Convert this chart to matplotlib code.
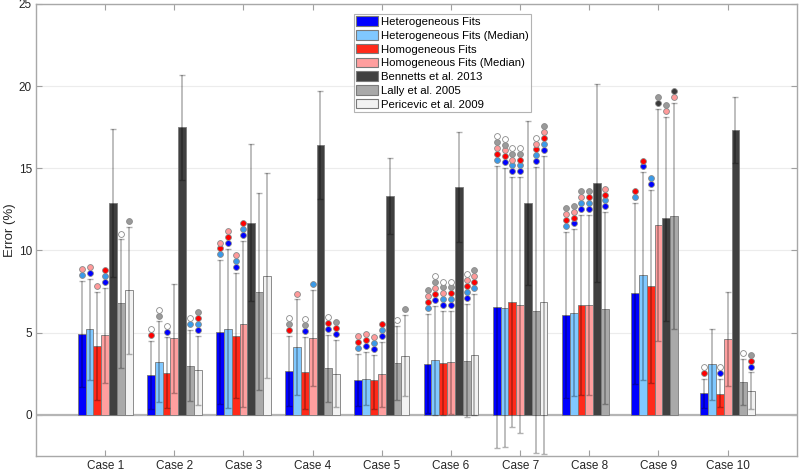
import numpy as np
import matplotlib
matplotlib.use("Agg")
import matplotlib.pyplot as plt
from matplotlib.patches import Patch

plt.rcParams["font.family"] = ["Liberation Sans", "DejaVu Sans"]

cases = ["Case 1", "Case 2", "Case 3", "Case 4", "Case 5",
         "Case 6", "Case 7", "Case 8", "Case 9", "Case 10"]

series_names = [
    "Heterogeneous Fits",
    "Heterogeneous Fits (Median)",
    "Homogeneous Fits",
    "Homogeneous Fits (Median)",
    "Bennetts et al. 2013",
    "Lally et al. 2005",
    "Pericevic et al. 2009",
]

nan = np.nan

# mean error (%) per case
het = [4.91, 2.40, 5.05, 2.66, 2.11, 3.09, 6.57, 6.07, 7.43, 1.32]
het_med = [5.20, 3.21, 5.22, 4.10, 2.19, 3.31, 6.51, 6.21, 8.48, 3.07]
hom = [4.18, 2.56, 4.81, 2.58, 2.11, 3.13, 6.84, 6.66, 7.83, 1.30]
hom_med = [4.83, 4.65, 5.52, 4.69, 2.48, 3.21, 6.66, 6.66, 11.53, 4.63]
bennetts = [12.87, 17.50, 11.69, 16.42, 13.30, 13.88, 12.90, 14.10, 11.95, 17.33]
lally = [6.78, 3.00, 7.49, 2.86, 3.13, 3.27, 6.31, 6.47, 12.09, 1.99]
pericevic = [7.59, 2.72, 8.46, 2.46, 3.57, 3.63, 6.84, nan, nan, 1.48]

# error bar ends
het_hi = [8.14, 4.49, 9.40, 4.79, 3.71, 6.13, 15.16, 11.14, 12.87, 2.21]
het_lo = [1.70, 0.33, 0.69, 0.53, 0.55, 0.10, -2.00, 1.00, 1.87, 0.39]
het_med_hi = [8.28, 5.68, 10.08, 7.02, 3.82, 6.64, 15.00, 11.28, 14.75, 5.22]
het_med_lo = [2.10, 0.77, 0.39, 1.20, 0.59, 0.00, -1.95, 1.14, 2.15, 0.93]
hom_hi = [7.47, 4.71, 8.64, 4.75, 3.67, 6.31, 14.45, 12.15, 13.66, 2.21]
hom_lo = [0.90, 0.41, 1.00, 0.37, 0.33, 0.00, -0.73, 1.20, 1.97, 0.45]
hom_med_hi = [7.73, 7.97, 10.59, 7.59, 4.42, 6.31, 14.45, 12.15, 18.59, 7.45]
hom_med_lo = [1.95, 1.34, 0.49, 1.77, 0.49, 0.05, -1.10, 1.20, 4.47, 1.77]
bennetts_hi = [17.37, 20.70, 16.46, 19.72, 15.60, 17.22, 17.90, 20.10, 18.14, 19.36]
bennetts_lo = [8.37, 14.30, 6.92, 13.12, 11.00, 10.53, 7.90, 8.10, 5.74, 15.30]
lally_hi = [10.67, 5.16, 13.47, 4.85, 5.40, 6.74, 15.06, 12.32, 18.95, 3.39]
lally_lo = [2.88, 0.85, 1.50, 0.79, 0.90, -0.14, -2.30, 0.65, 5.20, 0.63]
pericevic_hi = [11.44, 4.79, 14.69, 4.55, 6.05, 7.35, 15.76, nan, nan, 2.58]
pericevic_lo = [3.69, 0.61, 2.23, 0.49, 1.14, -0.02, -2.40, nan, nan, 0.37]

# significance markers above each bar (codes of the other series, bottom to top)
# b het, l het median, r hom, p hom median, d bennetts, g lally, w pericevic
het_sig = ["lp", "rw", "lrp", "rgw", "lrp", "lrpg", "lrpgw", "lrpg", "lr", "rw"]
het_med_sig = ["bp", "gw", "brp", "p", "brp", "brpgw", "brpgw", "brpg", "br", ""]
hom_sig = ["p", "bw", "blp", "bgw", "blp", "blpgw", "blpgw", "blpg", "bl", "bw"]
hom_med_sig = ["blr", "", "blr", "l", "blr", "blrgw", "blrgw", "blrg", "dg", ""]
bennetts_sig = ["", "", "", "", "", "", "", "", "pg", ""]
lally_sig = ["w", "lw", "", "brw", "w", "blrpw", "blrpw", "blrp", "pd", "w"]
pericevic_sig = ["g", "blrg", "", "brg", "g", "lrpg", "blrpg", "", "", "brg"]

values = [het, het_med, hom, hom_med, bennetts, lally, pericevic]
highs = [het_hi, het_med_hi, hom_hi, hom_med_hi, bennetts_hi, lally_hi, pericevic_hi]
lows = [het_lo, het_med_lo, hom_lo, hom_med_lo, bennetts_lo, lally_lo, pericevic_lo]
sigs = [het_sig, het_med_sig, hom_sig, hom_med_sig, bennetts_sig, lally_sig, pericevic_sig]

bar_colors = ["#0000ff", "#80c8ff", "#ff2a1a", "#ff9f9f", "#404040", "#a9a9a9", "#f2f2f2"]
dot_colors = {"b": "#0000ff", "l": "#3a9ae8", "r": "#ff0000", "p": "#ff9a9a",
              "d": "#3a3a3a", "g": "#9a9a9a", "w": "#ffffff"}

fig = plt.figure(figsize=(8, 4.76), dpi=100)
ax = fig.add_axes([0.045, 0.042, 0.951, 0.950])

x = np.arange(1, len(cases) + 1)
width = 0.113
step = 0.36

for i, name in enumerate(series_names):
    pos = x + (i - 3) * width
    vals = np.array(values[i], dtype=float)
    hi = np.array(highs[i], dtype=float)
    lo = np.array(lows[i], dtype=float)
    ax.bar(pos, vals, width, color=bar_colors[i], edgecolor="#7a7a7a",
           linewidth=0.6, label=name, zorder=2)
    ax.errorbar(pos, vals, yerr=[vals - lo, hi - vals], fmt="none",
                ecolor="black", alpha=0.3, elinewidth=1.2, capsize=2.2,
                capthick=1.0, zorder=3)
    for j, codes in enumerate(sigs[i]):
        for k, c in enumerate(codes):
            ax.plot(pos[j], hi[j] + step * (k + 1), "o", ms=4.2,
                    mfc=dot_colors[c], mec="#8a8a8a", mew=0.6, zorder=4)

ax.axhline(0, color="#b5b5b5", linewidth=1.6, zorder=1)
ax.set_yticks([0, 5, 10, 15, 20, 25])
ax.yaxis.grid(True, color="#ececec", linewidth=0.8, zorder=0)
ax.set_axisbelow(True)
ax.set_xlim(0, 11)
ax.set_ylim(-2.5, 25)
ax.set_xticks(x)
ax.set_xticklabels(cases)
ax.set_ylabel("Error (%)", fontsize=9.5, color="#262626", labelpad=2)
ax.tick_params(axis="both", direction="in", top=True, right=True,
               length=4, width=0.8, color="#a0a0a0", labelsize=8.5,
               labelcolor="#262626", pad=3)
ax.tick_params(axis="x", pad=3)
for s in ax.spines.values():
    s.set_color("#a8a8a8")
    s.set_linewidth(1.0)

handles = [Patch(facecolor=bar_colors[i], edgecolor="#7a7a7a", linewidth=0.8)
           for i in range(len(series_names))]
leg = ax.legend(handles, series_names, loc="upper left",
                bbox_to_anchor=(0.418, 0.977), fontsize=8.2, frameon=True,
                fancybox=False, edgecolor="#a0a0a0", handlelength=1.9,
                handleheight=0.9, labelspacing=0.27, handletextpad=0.25,
                borderpad=0.2, borderaxespad=0)
leg.get_frame().set_linewidth(0.8)

fig.savefig("out.png", dpi=100)
